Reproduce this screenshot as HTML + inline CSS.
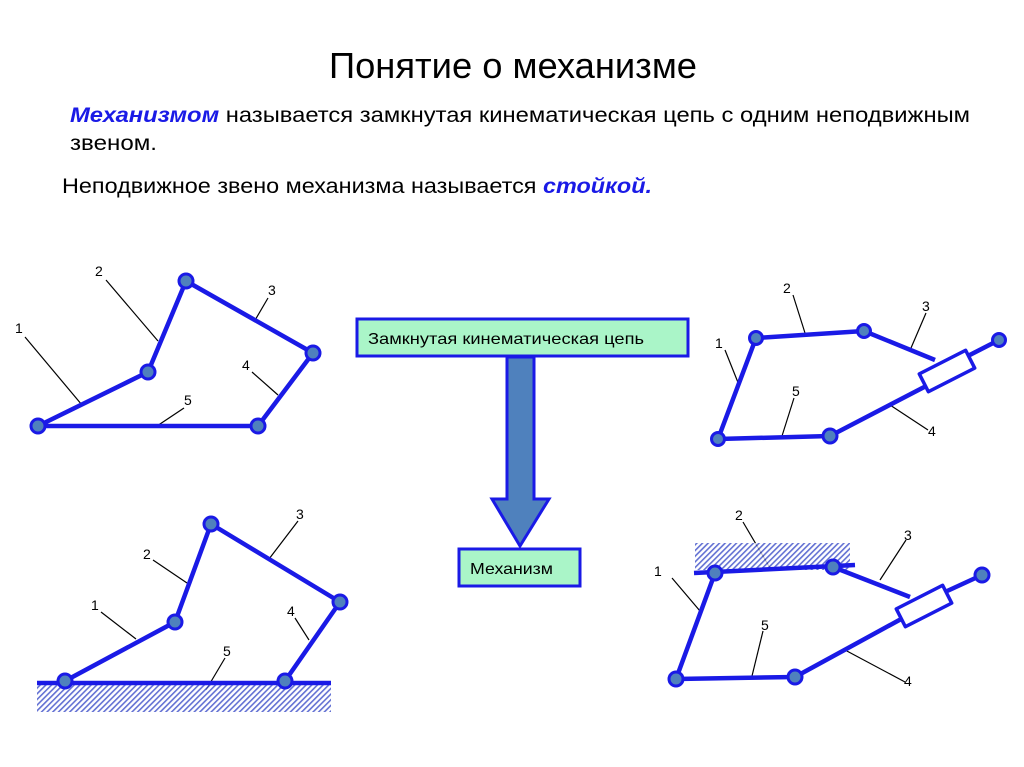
<!DOCTYPE html>
<html><head><meta charset="utf-8"><style>
html,body{margin:0;padding:0;background:#fff;width:1024px;height:767px;overflow:hidden}
svg{display:block}
text{font-family:"Liberation Sans",sans-serif}
</style></head><body>
<svg width="1024" height="767" viewBox="0 0 1024 767" xmlns="http://www.w3.org/2000/svg">
<defs>
<pattern id="h" width="4" height="4" patternUnits="userSpaceOnUse" patternTransform="rotate(45)">
<rect width="4" height="4" fill="#fff"/><rect width="1.6" height="4" fill="#3c4ec8"/>
</pattern>
</defs>
<text x="329" y="78" font-size="36" textLength="368" lengthAdjust="spacingAndGlyphs" fill="#000">Понятие о механизме</text>
<text x="70" y="122" font-size="21" textLength="900" lengthAdjust="spacingAndGlyphs"><tspan fill="#1a1ae6" font-weight="bold" font-style="italic">Механизмом</tspan><tspan fill="#000"> называется замкнутая кинематическая цепь с одним неподвижным</tspan></text>
<text x="70" y="150" font-size="21" textLength="87" lengthAdjust="spacingAndGlyphs" fill="#000">звеном.</text>
<text x="62" y="193" font-size="21" textLength="590" lengthAdjust="spacingAndGlyphs"><tspan fill="#000">Неподвижное звено механизма называется </tspan><tspan fill="#1a1ae6" font-weight="bold" font-style="italic">стойкой.</tspan></text>

<rect x="357" y="319" width="331" height="37" fill="#aaf5c8" stroke="#1a1ae6" stroke-width="3"/>
<text x="368" y="344" font-size="16" textLength="276" lengthAdjust="spacingAndGlyphs" fill="#000">Замкнутая кинематическая цепь</text>
<polygon points="507,357 534,357 534,499 549,499 520,546 492,499 507,499" fill="#4f81bd" stroke="#1a1ae6" stroke-width="3" stroke-linejoin="miter"/>
<rect x="459" y="549" width="121" height="37" fill="#aaf5c8" stroke="#1a1ae6" stroke-width="3"/>
<text x="470" y="574" font-size="16" textLength="83" lengthAdjust="spacingAndGlyphs" fill="#000">Механизм</text>

<g stroke="#000" stroke-width="1.2">
<line x1="25" y1="337" x2="82" y2="405"/><line x1="106" y1="280" x2="158" y2="341"/>
<line x1="268" y1="298" x2="254" y2="322"/><line x1="252" y1="372" x2="278" y2="395"/>
<line x1="184" y1="408" x2="157" y2="426"/>
<line x1="725" y1="350" x2="739" y2="385"/><line x1="793" y1="295" x2="805" y2="333"/>
<line x1="926" y1="313" x2="911" y2="348"/><line x1="928" y1="430" x2="890" y2="405"/>
<line x1="794" y1="398" x2="782" y2="436"/>
<line x1="101" y1="612" x2="136" y2="639"/><line x1="153" y1="560" x2="187" y2="583"/>
<line x1="298" y1="521" x2="269" y2="559"/><line x1="295" y1="618" x2="309" y2="640"/>
<line x1="225" y1="658" x2="206" y2="690"/>
<line x1="672" y1="578" x2="700" y2="611"/><line x1="743" y1="522" x2="770" y2="568"/>
<line x1="906" y1="540" x2="880" y2="580"/><line x1="905" y1="682" x2="845" y2="650"/>
<line x1="763" y1="631" x2="752" y2="676"/>
</g>
<g font-size="14" fill="#000">
<text x="15" y="333">1</text><text x="95" y="276">2</text><text x="268" y="295">3</text><text x="242" y="370">4</text><text x="184" y="405">5</text>
<text x="715" y="348">1</text><text x="783" y="293">2</text><text x="922" y="311">3</text><text x="928" y="436">4</text><text x="792" y="396">5</text>
<text x="91" y="610">1</text><text x="143" y="559">2</text><text x="296" y="519">3</text><text x="287" y="616">4</text><text x="223" y="656">5</text>
<text x="654" y="576">1</text><text x="735" y="520">2</text><text x="904" y="540">3</text><text x="904" y="686">4</text><text x="761" y="630">5</text>
</g>

<rect x="37" y="684" width="294" height="28" fill="url(#h)" opacity="0.8"/>
<rect x="695" y="543" width="155" height="27" fill="url(#h)" opacity="0.8"/>

<g stroke="#1a1ae6" stroke-width="4.5" fill="none" stroke-linejoin="round">
<polyline points="38,426 148,372 186,281 313,353 258,426 38,426"/>
<polyline points="718,439 756,338 864,331 935,360"/>
<line x1="718" y1="439" x2="830" y2="436"/>
<line x1="830" y1="436" x2="930" y2="384"/>
<line x1="960" y1="360" x2="999" y2="340"/>
<g transform="translate(947,371) rotate(-27)"><rect x="-26" y="-10" width="52" height="20" fill="#fff" stroke-width="3.5"/></g>
<line x1="37" y1="683" x2="331" y2="683"/>
<polyline points="65,681 175,622 211,524 340,602 285,681"/>
<line x1="694" y1="573" x2="855" y2="565"/>
<polyline points="715,573 676,679 795,677 903,618"/>
<line x1="833" y1="567" x2="910" y2="597"/>
<line x1="945" y1="592" x2="982" y2="575"/>
<g transform="translate(924,606) rotate(-27)"><rect x="-26" y="-10" width="52" height="20" fill="#fff" stroke-width="3.5"/></g>
</g>
<g fill="#4f81bd" stroke="#1a1ae6" stroke-width="3">
<circle cx="38" cy="426" r="7"/><circle cx="148" cy="372" r="7"/><circle cx="186" cy="281" r="7"/><circle cx="313" cy="353" r="7"/><circle cx="258" cy="426" r="7"/>
<circle cx="718" cy="439" r="6.5"/><circle cx="756" cy="338" r="6.5"/><circle cx="864" cy="331" r="6.5"/><circle cx="830" cy="436" r="7"/><circle cx="999" cy="340" r="6.5"/>
<circle cx="65" cy="681" r="7"/><circle cx="175" cy="622" r="7"/><circle cx="211" cy="524" r="7"/><circle cx="340" cy="602" r="7"/><circle cx="285" cy="681" r="7"/>
<circle cx="715" cy="573" r="7"/><circle cx="833" cy="567" r="7"/><circle cx="676" cy="679" r="7"/><circle cx="795" cy="677" r="7"/><circle cx="982" cy="575" r="7"/>
</g>
</svg>
</body></html>
